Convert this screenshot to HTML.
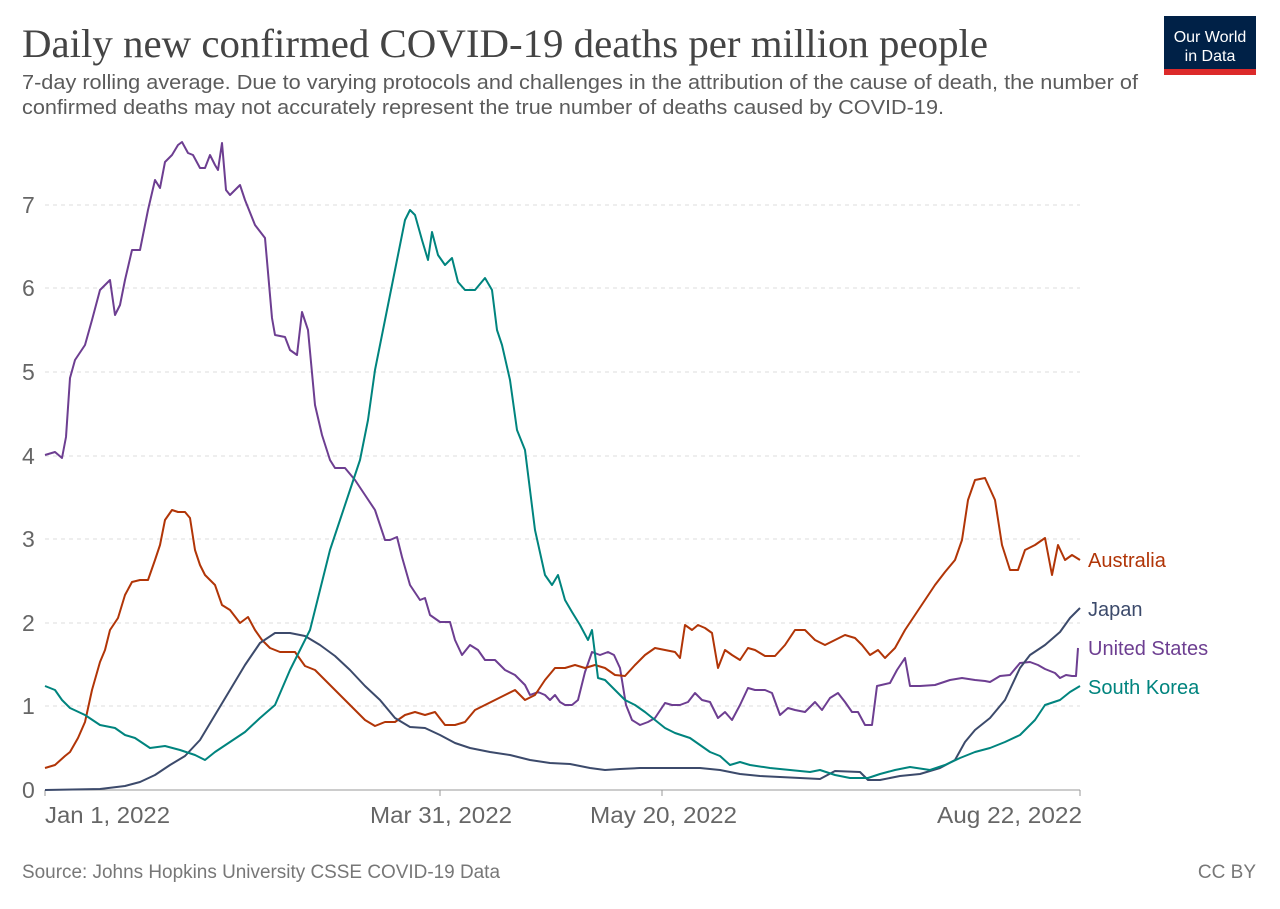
<!DOCTYPE html>
<html><head><meta charset="utf-8"><style>
body{margin:0;background:#fff;width:1280px;height:904px;overflow:hidden;font-family:"Liberation Sans",sans-serif}
</style></head><body>
<svg width="1280" height="904" xmlns="http://www.w3.org/2000/svg" font-family="Liberation Sans, sans-serif">
<text x="22" y="57" font-family="Liberation Serif, serif" font-size="40" fill="#444" textLength="966" lengthAdjust="spacingAndGlyphs">Daily new confirmed COVID-19 deaths per million people</text>
<text x="22" y="89" font-size="20.5" fill="#5b5b5b" textLength="1116" lengthAdjust="spacingAndGlyphs">7-day rolling average. Due to varying protocols and challenges in the attribution of the cause of death, the number of</text>
<text x="22" y="114" font-size="20.5" fill="#5b5b5b" textLength="922" lengthAdjust="spacingAndGlyphs">confirmed deaths may not accurately represent the true number of deaths caused by COVID-19.</text>
<rect x="1164" y="16" width="92" height="59" fill="#002147"/>
<rect x="1164" y="69" width="92" height="6" fill="#dc2a2a"/>
<text x="1210" y="42" font-size="16" fill="#fff" text-anchor="middle">Our World</text>
<text x="1210" y="61" font-size="16" fill="#fff" text-anchor="middle">in Data</text>
<g stroke="#ddd" stroke-dasharray="4,4" stroke-width="1">
<line x1="45" x2="1080" y1="706" y2="706"/><line x1="45" x2="1080" y1="623" y2="623"/><line x1="45" x2="1080" y1="539" y2="539"/><line x1="45" x2="1080" y1="456" y2="456"/><line x1="45" x2="1080" y1="372" y2="372"/><line x1="45" x2="1080" y1="288" y2="288"/><line x1="45" x2="1080" y1="205" y2="205"/>
</g>
<line x1="45" x2="1080" y1="790" y2="790" stroke="#999"/>
<g stroke="#999"><line x1="45" x2="45" y1="790" y2="796"/><line x1="440" x2="440" y1="790" y2="796"/><line x1="662" x2="662" y1="790" y2="796"/><line x1="1080" x2="1080" y1="790" y2="796"/></g>
<g font-size="23" fill="#666">
<text x="22" y="798">0</text><text x="22" y="714">1</text><text x="22" y="631">2</text><text x="22" y="547">3</text><text x="22" y="464">4</text><text x="22" y="380">5</text><text x="22" y="296">6</text><text x="22" y="213">7</text>
<text x="45" y="823" textLength="125" lengthAdjust="spacingAndGlyphs">Jan 1, 2022</text><text x="370" y="823" textLength="142" lengthAdjust="spacingAndGlyphs">Mar 31, 2022</text><text x="590" y="823" textLength="147" lengthAdjust="spacingAndGlyphs">May 20, 2022</text><text x="937" y="823" textLength="145" lengthAdjust="spacingAndGlyphs">Aug 22, 2022</text>
</g>
<g fill="none" stroke-width="2" stroke-linejoin="round">
<polyline stroke="#6d3e91" points="45,455 55,452 62,458 66,437 70,378 75,360 85,345 92,320 100,290 110,280 115,315 120,305 125,280 132,250 140,250 148,210 155,180 160,188 165,162 172,155 178,145 182,142 188,153 193,155 200,168 205,168 210,155 215,165 218,170 222,143 226,190 230,195 240,185 245,200 255,225 265,238 272,318 275,335 285,337 290,350 297,355 302,312 308,330 315,405 322,435 330,460 335,468 345,468 355,480 365,495 375,510 385,540 390,540 397,537 402,557 410,585 420,600 425,598 430,615 440,622 450,622 455,640 462,655 470,645 478,650 485,660 495,660 505,670 515,675 525,685 530,695 538,692 545,695 550,700 555,695 560,702 565,705 572,705 578,700 585,672 592,652 600,655 608,652 614,655 620,668 626,705 632,720 640,725 648,722 655,718 665,703 672,705 680,705 688,702 695,693 702,700 710,702 718,718 725,712 732,720 740,705 748,688 755,690 765,690 772,693 780,715 788,708 795,710 805,712 815,702 822,710 830,698 838,693 845,702 852,712 858,712 865,725 872,725 877,686 890,683 897,670 905,658 910,686 920,686 935,685 950,680 962,678 975,680 985,681 990,682 1000,676 1010,675 1020,663 1030,662 1038,665 1045,669 1055,673 1060,678 1066,675 1072,676 1076,676 1078,648"/>
<polyline stroke="#b13507" points="45,768 55,765 65,756 70,752 78,738 85,722 92,690 100,662 105,650 110,630 118,618 125,595 132,582 140,580 148,580 155,560 160,545 165,520 172,510 178,512 185,512 190,518 195,550 200,565 205,575 215,585 222,605 230,610 240,623 248,617 255,630 262,640 270,648 280,652 295,652 305,666 315,670 325,680 335,690 345,700 355,710 365,720 375,726 385,722 395,722 405,715 415,712 425,715 435,712 445,725 455,725 465,722 475,710 485,705 495,700 505,695 515,690 525,700 535,695 545,680 555,668 565,668 575,665 585,668 595,665 605,668 615,675 625,676 635,665 645,655 655,648 665,650 675,652 680,658 685,625 692,630 698,625 705,628 712,633 718,668 725,650 732,655 740,660 748,648 755,650 765,656 775,656 785,645 795,630 805,630 815,640 825,645 835,640 845,635 855,638 862,645 870,655 878,650 885,658 895,648 905,630 915,615 925,600 935,585 945,572 955,560 962,540 968,500 975,480 985,478 995,500 1002,545 1010,570 1018,570 1025,550 1035,545 1045,538 1052,575 1058,545 1065,560 1072,555 1080,560"/>
<polyline stroke="#3c4a6b" points="45,790 100,789 125,786 140,782 155,775 170,765 185,756 200,740 215,715 230,690 245,665 260,643 275,633 290,633 305,636 320,645 335,656 350,670 365,686 380,700 395,718 410,727 425,728 440,735 455,743 470,748 490,752 510,755 530,760 550,763 570,764 590,768 605,770 620,769 640,768 660,768 680,768 700,768 720,770 740,774 760,776 780,777 800,778 820,779 835,771 860,772 868,780 880,780 900,776 920,774 940,768 955,760 965,742 975,730 990,718 1005,700 1020,668 1030,655 1045,645 1060,632 1070,618 1080,608"/>
<polyline stroke="#00847e" points="45,686 55,690 62,700 70,708 85,715 100,725 115,728 125,735 135,738 150,748 165,746 180,750 195,755 205,760 215,752 230,742 245,732 260,718 275,705 290,670 300,650 310,630 320,590 330,550 340,520 350,490 360,460 368,420 375,370 385,320 395,270 405,220 410,210 415,215 422,240 428,260 432,232 438,255 445,265 452,258 458,282 465,290 475,290 485,278 492,290 497,330 502,345 510,380 517,430 525,450 530,490 535,530 545,575 552,585 558,575 565,600 572,612 580,625 588,640 592,630 598,678 605,680 615,690 625,700 635,705 645,712 655,720 665,728 675,733 690,738 700,745 710,752 720,756 730,765 740,762 750,765 770,768 790,770 810,772 820,770 835,775 850,778 868,778 880,774 895,770 910,767 930,770 945,765 960,758 975,752 990,748 1005,742 1020,735 1035,720 1045,705 1060,700 1070,692 1080,686"/>
</g>
<g font-size="20">
<text x="1088" y="567" fill="#b13507">Australia</text>
<text x="1088" y="616" fill="#3c4a6b">Japan</text>
<text x="1088" y="655" fill="#6d3e91">United States</text>
<text x="1088" y="694" fill="#00847e">South Korea</text>
</g>
<text x="22" y="878" font-size="19" fill="#777" textLength="478" lengthAdjust="spacingAndGlyphs">Source: Johns Hopkins University CSSE COVID-19 Data</text>
<text x="1256" y="878" font-size="19" fill="#777" text-anchor="end">CC BY</text>
</svg>
</body></html>
